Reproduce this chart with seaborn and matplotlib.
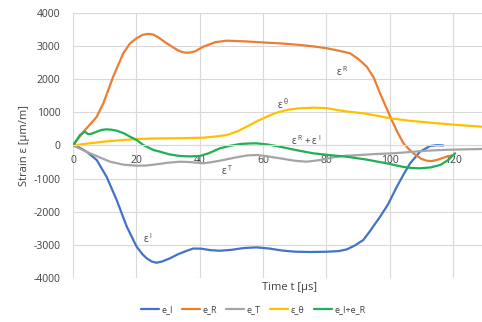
import matplotlib
matplotlib.use("Agg")
import matplotlib.pyplot as plt
import seaborn as sns
import pandas as pd

# Time axis [µs] and strain [µm/m] for each gauge signal
t_I = [0, 2, 4.3, 7.5, 10.6, 13.8, 17, 20.1, 22, 23.3, 24.8, 26.4, 28.2, 30.6, 33, 35.9, 38,
       40.5, 43.5, 46.4, 50, 54, 58, 62, 66, 70, 75, 80.2, 84, 86.5, 89, 91.7, 94, 97, 99.5,
       102.3, 104.5, 106.5, 109.6, 112.8, 115, 117]
e_I = [0, -60, -187, -438, -942, -1646, -2452, -3056, -3290, -3407, -3500, -3540, -3500, -3407,
       -3290, -3180, -3110, -3115, -3160, -3177, -3150, -3095, -3075, -3110, -3170, -3205, -3215,
       -3207, -3187, -3136, -3020, -2854, -2560, -2150, -1780, -1244, -860, -538, -187, -15, 10, 0]

t_R = [0, 2, 3.3, 4.3, 6, 7.5, 9.6, 12.7, 15.9, 18, 20.1, 22, 23.8, 25.3, 27, 29.6, 33, 34.5,
       35.9, 37.2, 38.5, 41.2, 45, 48.6, 55, 61.2, 66, 71.7, 76, 80.2, 84, 87.5, 90, 92.8, 95,
       97, 100.2, 102.5, 104.4, 106, 107.5, 110, 111.7, 113.3, 114.9, 118, 120.2]
e_R = [0, 250, 417, 520, 700, 870, 1275, 2080, 2785, 3080, 3240, 3340, 3370, 3350, 3260, 3085,
       2880, 2820, 2800, 2810, 2840, 2985, 3120, 3165, 3140, 3105, 3080, 3035, 2990, 2935, 2860,
       2785, 2620, 2380, 2050, 1577, 870, 400, 66, -100, -236, -400, -460, -470, -438, -338, -287]

t_T = [0, 5.4, 11.7, 16, 20.1, 23, 26.4, 30, 33.8, 37, 41.2, 44, 47.5, 52, 55, 58, 61, 65.4, 70,
       73.8, 78, 82.2, 86, 90.7, 95, 101.2, 106, 111.7, 118, 124, 129.2]
e_T = [0, -236, -489, -580, -610, -605, -568, -520, -489, -500, -538, -500, -438, -350, -300, -287,
       -320, -387, -460, -489, -440, -357, -310, -287, -260, -236, -200, -157, -130, -115, -105]

t_th = [0, 5, 9.6, 15, 20.1, 25, 30.6, 36, 41.2, 45, 48.6, 52, 55.9, 58.5, 61.2, 64, 67.5, 71,
        75.9, 80, 83.3, 87, 91.7, 96, 100.2, 106, 112.8, 120, 129.2]
e_th = [0, 65, 115, 160, 196, 210, 217, 225, 236, 270, 317, 430, 619, 750, 870, 980, 1072, 1120,
        1142, 1130, 1072, 1020, 972, 900, 821, 750, 689, 630, 568]

t_IR = [0, 2.2, 3.8, 4.8, 6, 7.5, 9, 10.6, 12.2, 13.8, 16, 18, 20.1, 22.2, 25.4, 27.5, 30.5,
        33.8, 37, 40.1, 43, 46.4, 49.5, 52.8, 55.5, 58, 61.5, 65.4, 70, 75.9, 81, 86.5, 93, 99.1,
        104, 107, 109.6, 113, 116, 118.5, 120.7]
e_IR = [0, 317, 417, 338, 360, 417, 470, 489, 475, 447, 370, 266, 166, 15, -136, -187, -270,
        -317, -330, -317, -230, -85, -10, 45, 60, 66, 30, -36, -130, -236, -290, -338, -430, -538,
        -640, -680, -689, -660, -589, -440, -236]

series_names = ["e_I", "e_R", "e_T", "ε_θ", "e_I+e_R"]
series_colors = ["#4472C4", "#ED7D31", "#A5A5A5", "#FFC000", "#1FAF55"]
series_data = [(t_I, e_I), (t_R, e_R), (t_T, e_T), (t_th, e_th), (t_IR, e_IR)]

x_ticks = [0, 20, 40, 60, 80, 100, 120]
y_ticks = [-4000, -3000, -2000, -1000, 0, 1000, 2000, 3000, 4000]

sns.set_theme(style="white")
plt.rcParams["font.family"] = ["Open Sans", "DejaVu Sans"]

fig = plt.figure(figsize=(4.82, 3.22), dpi=100)
ax = fig.add_axes([73 / 482, 44 / 322, 1 - 73 / 482, 265 / 322])

frames = []
for name, (tt, vv) in zip(series_names, series_data):
    frames.append(pd.DataFrame({"t": tt, "strain": vv, "signal": name}))
df = pd.concat(frames, ignore_index=True)

sns.lineplot(data=df, x="t", y="strain", hue="signal", hue_order=series_names,
             palette=series_colors, sort=False, estimator=None, linewidth=1.6,
             solid_joinstyle="round", solid_capstyle="round", ax=ax, legend=True)

ax.set_xlim(0, 129.2)
ax.set_ylim(-4000, 4000)
ax.set_xticks(x_ticks)
ax.set_yticks(y_ticks)
ax.set_xticklabels([str(v) for v in x_ticks])
ax.set_yticklabels([str(v) for v in y_ticks])
ax.grid(True, color="#d9d9d9", linewidth=0.8)
ax.set_axisbelow(True)

for side in ["top", "right", "left"]:
    ax.spines[side].set_visible(False)
ax.spines["bottom"].set_position(("data", 0))
ax.spines["bottom"].set_color("#d9d9d9")
ax.spines["bottom"].set_linewidth(0.8)
ax.tick_params(axis="x", length=0, pad=7, labelsize=7.5, colors="#404040")
ax.tick_params(axis="y", length=0, pad=9, labelsize=7.5, colors="#404040")

ax.set_xlabel("Time t [µs]", fontsize=8, color="#404040")
ax.xaxis.set_label_coords(0.53, -0.015)
ax.set_ylabel("Strain ε [µm/m]", fontsize=8, color="#404040")
ax.yaxis.set_label_coords(-0.105, 0.5)

# Curve labels
note_kw = dict(fontsize=7, color="#404040", ha="left", va="center")
ax.text(83.1, 2220, "$\\mathregular{ε^{\\ R}}$", **note_kw)
ax.text(64.5, 1253, "$\\mathregular{ε^{\\ θ}}$", **note_kw)
ax.text(68.9, 136, "$\\mathregular{ε^{\\ R} + ε^{\\ I}}$", **note_kw)
ax.text(46.8, -770, "$\\mathregular{ε^{\\ T}}$", **note_kw)
ax.text(22.1, -2820, "$\\mathregular{ε^{\\ I}}$", **note_kw)

handles, labels = ax.get_legend_handles_labels()
ax.legend_.remove()
fig.legend(handles, labels, loc="center", bbox_to_anchor=(253 / 482, 1 - 310 / 322),
           ncol=5, frameon=False, fontsize=6.5, handlelength=2.0, handletextpad=0.3,
           columnspacing=1.0, labelcolor="#404040")

fig.savefig("out.png", dpi=100)
